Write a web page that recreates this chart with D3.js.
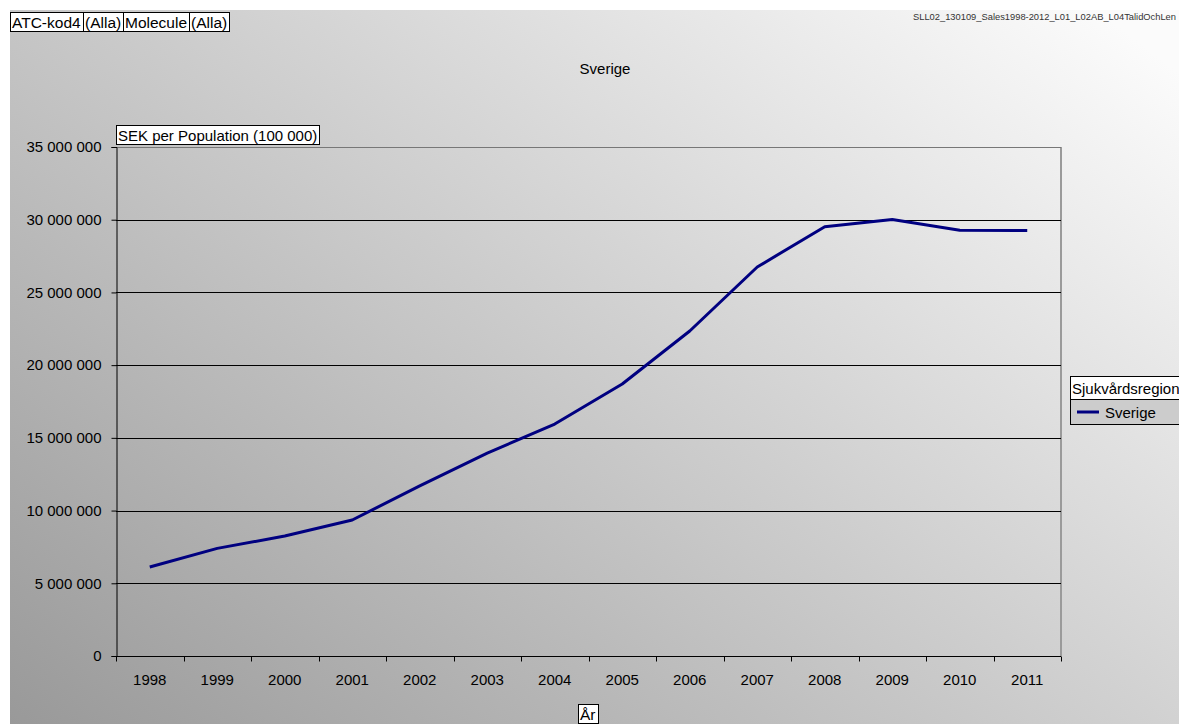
<!DOCTYPE html>
<html>
<head>
<meta charset="utf-8">
<script src="https://cdn.jsdelivr.net/npm/d3@7"></script>
<style>
  html, body { margin: 0; padding: 0; background: #fff; }
  svg { display: block; font-family: "Liberation Sans", Arial, sans-serif; }
</style>
</head>
<body>
<svg id="chart" width="1179" height="724"></svg>
<script>
// Yearly sales, SEK per 100 000 population, whole of Sweden
const years = ["1998","1999","2000","2001","2002","2003","2004","2005","2006","2007","2008","2009","2010","2011"];
const sverige = [6120000, 7400000, 8250000, 9350000, 11700000, 13950000, 15950000, 18700000, 22350000, 26750000, 29520000, 30020000, 29280000, 29250000];
const yTicks = [0, 5000000, 10000000, 15000000, 20000000, 25000000, 30000000, 35000000];
const filterLabels = ["ATC-kod4", "(Alla)", "Molecule", "(Alla)"];
const seriesName = "Sverige";
const legendTitle = "Sjukvårdsregion";
const fileLabel = "SLL02_130109_Sales1998-2012_L01_L02AB_L04TalidOchLen";

const svg = d3.select("#chart");
const W = 1179, H = 724;
const FS = 15;

// background gradient: dark bottom-left to light top-right
const defs = svg.append("defs");
const grad = defs.append("linearGradient").attr("id", "bg")
  .attr("gradientUnits", "userSpaceOnUse")
  .attr("x1", 10).attr("y1", 724).attr("x2", 760).attr("y2", -250);
grad.append("stop").attr("offset", "0%").attr("stop-color", "#999999");
grad.append("stop").attr("offset", "100%").attr("stop-color", "#fbfbfb");

svg.append("rect").attr("x", 10).attr("y", 10).attr("width", W - 10).attr("height", H - 10)
  .attr("fill", "url(#bg)");

const margin = { left: 116, right: 1061, top: 147, bottom: 656 };

const x = d3.scaleBand().domain(years).range([margin.left, margin.right]);
const y = d3.scaleLinear().domain([0, 35000000]).range([margin.bottom, margin.top]);

const fmt = v => d3.format(",")(v).replace(/,/g, " ");

// plot frame right edge shadow
svg.append("line")
  .attr("x1", margin.right).attr("x2", margin.right)
  .attr("y1", margin.top).attr("y2", margin.bottom)
  .attr("stroke", "#9a9a9a").attr("stroke-width", 2);

// horizontal gridlines
svg.append("g").selectAll("line").data(yTicks.filter(d => d > 0)).join("line")
  .attr("x1", margin.left).attr("x2", margin.right)
  .attr("y1", d => Math.round(y(d)) + 0.5).attr("y2", d => Math.round(y(d)) + 0.5)
  .attr("stroke", d => d === 35000000 ? "#777" : "#000").attr("stroke-width", 1);

// y axis
const yAxis = svg.append("g").attr("transform", `translate(${margin.left + 0.5},0)`)
  .call(d3.axisLeft(y).tickValues(yTicks).tickFormat(fmt).tickSize(5).tickPadding(10));
yAxis.select(".domain").attr("stroke", "#000");
yAxis.selectAll(".tick line").attr("stroke", "#000");
yAxis.selectAll("text").attr("font-size", FS).attr("fill", "#000")
  .attr("font-family", "Liberation Sans, Arial, sans-serif");

// x axis: labels centred in bands, ticks between bands
const xAxisG = svg.append("g").attr("transform", `translate(0,${margin.bottom + 0.5})`);
xAxisG.append("line").attr("x1", margin.left).attr("x2", margin.right)
  .attr("stroke", "#000");
const bounds = years.map(d => x(d)).concat([margin.right]);
xAxisG.selectAll("line.tk").data(bounds).join("line").attr("class", "tk")
  .attr("x1", d => Math.round(d) + 0.5).attr("x2", d => Math.round(d) + 0.5)
  .attr("y1", 0).attr("y2", 5).attr("stroke", "#000");
xAxisG.selectAll("text").data(years).join("text")
  .attr("x", d => x(d) + x.bandwidth() / 2).attr("y", 28)
  .attr("text-anchor", "middle").attr("font-size", FS).attr("fill", "#000")
  .text(d => d);

// series line
const line = d3.line()
  .x((d, i) => x(years[i]) + x.bandwidth() / 2)
  .y(d => y(d));
svg.append("path").datum(sverige)
  .attr("d", line).attr("fill", "none")
  .attr("stroke", "#000080").attr("stroke-width", 3).attr("stroke-linejoin", "round");

// chart title
svg.append("text").attr("x", 605).attr("y", 74).attr("text-anchor", "middle")
  .attr("font-size", 15).attr("fill", "#000").text("Sverige");

// file name label top right
svg.append("text").attr("x", 913).attr("y", 20).attr("font-size", 9)
  .attr("textLength", 263).attr("lengthAdjust", "spacingAndGlyphs")
  .attr("fill", "#333").text(fileLabel);

// boxed label helper
function boxedLabel(xPos, yPos, text, size, fill) {
  const g = svg.append("g");
  const t = g.append("text").attr("x", xPos + 2).attr("y", yPos).attr("font-size", size)
    .attr("fill", "#000").text(text);
  const bb = t.node().getBBox();
  g.insert("rect", "text")
    .attr("x", xPos + 0.5).attr("y", Math.round(bb.y) - 1.5)
    .attr("width", Math.round(bb.width) + 4).attr("height", Math.round(bb.height) + 2)
    .attr("fill", fill || "#fff").attr("stroke", "#000").attr("stroke-width", 1);
  return Math.round(bb.width) + 4;
}

// page filter boxes
let fx = 10;
filterLabels.forEach(lbl => {
  const w = boxedLabel(fx, 28, lbl, 15.5);
  fx += w;
});

// y axis title box
boxedLabel(116, 141, "SEK per Population (100 000)", 15);

// x axis title box
boxedLabel(578, 720, "År", 15.5);

// legend
const lg = svg.append("g");
lg.append("rect").attr("x", 1070.5).attr("y", 399.5).attr("width", 120).attr("height", 25)
  .attr("fill", "#cccccc").attr("stroke", "#000");
lg.append("rect").attr("x", 1070.5).attr("y", 376.5).attr("width", 120).attr("height", 23)
  .attr("fill", "#fff").attr("stroke", "#000");
lg.append("text").attr("x", 1072).attr("y", 394).attr("font-size", 15).attr("fill", "#000")
  .text(legendTitle);
lg.append("line").attr("x1", 1077).attr("x2", 1099).attr("y1", 412).attr("y2", 412)
  .attr("stroke", "#000080").attr("stroke-width", 3);
lg.append("text").attr("x", 1105).attr("y", 418).attr("font-size", 15).attr("fill", "#000")
  .text(seriesName);
</script>
</body>
</html>
